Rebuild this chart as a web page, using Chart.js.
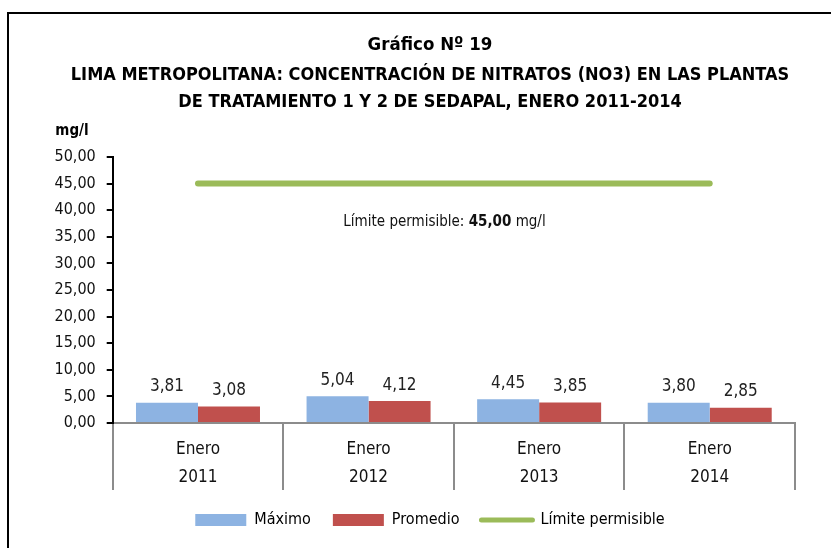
<!DOCTYPE html>
<html>
<head>
<meta charset="utf-8">
<script src="https://cdn.jsdelivr.net/npm/chart.js@4/dist/chart.umd.min.js"></script>
<style>
  html, body { margin: 0; padding: 0; background: #fff; }
  #wrap { position: relative; width: 831px; height: 548px; overflow: hidden; }
  #frame { position: absolute; left: 7px; top: 12px; width: 900px; height: 600px; border: 2px solid #000; box-sizing: border-box; }
  #c { position: absolute; left: 0; top: 0; }
</style>
</head>
<body>
<div id="wrap">
  <div id="frame"></div>
  <canvas id="c" width="831" height="548"></canvas>
</div>
<script>
// ---- data ----
const categories = [['Enero', '2011'], ['Enero', '2012'], ['Enero', '2013'], ['Enero', '2014']];
const maximo = [3.81, 5.04, 4.45, 3.80];
const promedio = [3.08, 4.12, 3.85, 2.85];
const limite = [45, 45, 45, 45];
const seriesNames = ['Máximo', 'Promedio', 'Límite permisible'];
const yMin = 0, yMax = 50, yStep = 5;
const titleText = 'Gráfico Nº 19';
const subtitleLines = ['LIMA METROPOLITANA: CONCENTRACIÓN DE NITRATOS (NO3) EN LAS PLANTAS', 'DE TRATAMIENTO 1 Y 2 DE SEDAPAL, ENERO 2011-2014'];
const unitLabel = 'mg/l';
const limitNote = ['Límite permisible: ', '45,00', ' mg/l'];
const limitNoteValue = 37.8; // vertical placement of the note, in axis units

const FONT = "'Liberation Sans Narrow', 'Arial Narrow', 'DejaVu Sans Condensed', sans-serif";
const fmt = v => Number(v).toFixed(2).replace('.', ',');

const extraText = {
  id: 'extraText',
  afterDraw(chart) {
    const ctx = chart.ctx;
    ctx.save();
    // unit label
    ctx.fillStyle = '#000';
    ctx.font = `bold 15px ${FONT}`;
    ctx.textAlign = 'center';
    ctx.textBaseline = 'middle';
    ctx.fillText(unitLabel, 72, 131);
    // data labels
    ctx.font = `17px ${FONT}`;
    ctx.fillStyle = '#222';
    ctx.textBaseline = 'alphabetic';
    [0, 1].forEach(di => {
      const meta = chart.getDatasetMeta(di);
      meta.data.forEach((bar, i) => {
        const v = chart.data.datasets[di].data[i];
        ctx.fillText(fmt(v), bar.x, bar.y - 11.5);
      });
    });
    // limit note
    const fonts = [`15px ${FONT}`, `bold 15px ${FONT}`, `15px ${FONT}`];
    const widths = limitNote.map((p, i) => { ctx.font = fonts[i]; return ctx.measureText(p).width; });
    const total = widths.reduce((a, b) => a + b, 0);
    let x = 444.5 - total / 2;
    const y = chart.scales.y.getPixelForValue(limitNoteValue);
    ctx.textAlign = 'left';
    ctx.textBaseline = 'middle';
    ctx.fillStyle = '#111';
    limitNote.forEach((p, i) => { ctx.font = fonts[i]; ctx.fillText(p, x, y); x += widths[i]; });
    ctx.restore();
  }
};

new Chart(document.getElementById('c'), {
  type: 'bar',
  data: {
    labels: categories,
    datasets: [
      { label: seriesNames[0], data: maximo, backgroundColor: '#8db3e2', borderWidth: 0, order: 2 },
      { label: seriesNames[1], data: promedio, backgroundColor: '#c0504d', borderWidth: 0, order: 2 },
      { type: 'line', label: seriesNames[2], data: limite, borderColor: '#9bbb59', backgroundColor: '#9bbb59',
        borderWidth: 6, borderCapStyle: 'round', pointRadius: 0, pointHoverRadius: 0, order: 1 }
    ]
  },
  options: {
    responsive: false,
    animation: false,
    devicePixelRatio: 1,
    categoryPercentage: 0.727,
    barPercentage: 1,
    layout: { padding: { left: 42, right: 13, top: 0, bottom: 10 } },
    scales: {
      x: {
        grid: { offset: true, drawOnChartArea: false, drawTicks: true, tickLength: 67, color: '#8c8c8c', lineWidth: 2 },
        border: { display: true, color: '#8c8c8c', width: 2 },
        ticks: { padding: -54, color: '#111', font: { family: FONT, size: 17, lineHeight: 1.65 }, maxRotation: 0, autoSkip: false },
        afterFit(scale) { scale.height = 67; }
      },
      y: {
        min: yMin, max: yMax,
        grid: { drawOnChartArea: false, drawTicks: true, tickLength: 6, color: '#000', lineWidth: 2 },
        border: { display: true, color: '#000', width: 2 },
        ticks: { stepSize: yStep, padding: 11, color: '#111', font: { family: FONT, size: 16 }, callback: v => fmt(v) },
        afterFit(scale) { scale.width = 70.7; }
      },
      ySpacer: {
        position: 'right', display: true,
        grid: { display: false }, border: { display: false }, ticks: { display: false },
        afterFit(scale) { scale.width = 23; }
      }
    },
    plugins: {
      title: { display: true, text: titleText, color: '#000', font: { family: FONT, size: 18.5, weight: 'bold', lineHeight: 1.2 }, padding: { top: 34, bottom: 6 } },
      subtitle: { display: true, text: subtitleLines, color: '#000', font: { family: FONT, size: 18, weight: 'bold', lineHeight: 1.5 }, padding: { top: 0, bottom: 40.8 } },
      legend: {
        position: 'bottom',
        labels: {
          usePointStyle: true, pointStyleWidth: 51, boxHeight: 12, padding: 22,
          color: '#111', font: { family: FONT, size: 16 },
          generateLabels(chart) {
            return chart.data.datasets.map((ds, i) => ({
              text: ds.label, datasetIndex: i,
              fillStyle: ds.backgroundColor, strokeStyle: ds.borderColor || ds.backgroundColor,
              lineWidth: ds.type === 'line' ? 5 : 0, lineCap: 'round',
              pointStyle: ds.type === 'line' ? 'line' : 'rect', hidden: false
            }));
          }
        }
      },
      tooltip: { enabled: false }
    }
  },
  plugins: [extraText]
});
</script>
</body>
</html>
